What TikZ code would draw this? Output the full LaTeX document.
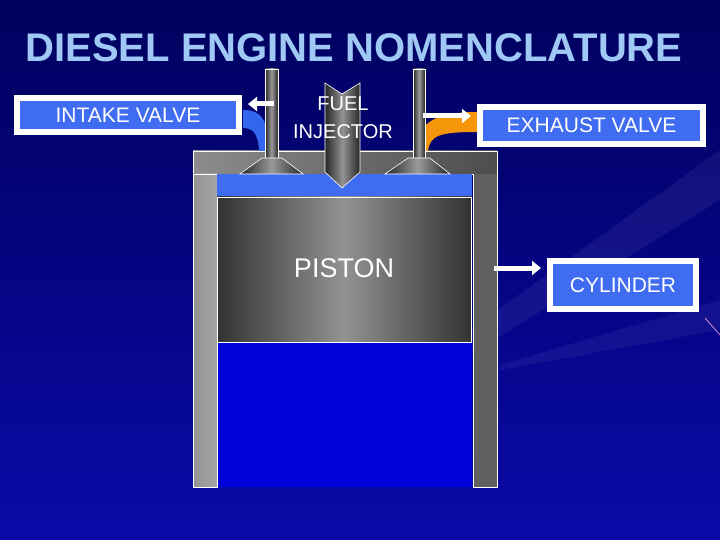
\documentclass[tikz,border=0pt]{standalone}
\usepackage{fontspec}
\setmainfont{Liberation Sans}
\usetikzlibrary{arrows.meta}
\definecolor{bgtop}{HTML}{00005E}
\definecolor{bgbot}{HTML}{0A0AA8}
\definecolor{lblue}{HTML}{3F6CF0}
\definecolor{ttl}{HTML}{9FC8F5}
\definecolor{port}{HTML}{3366EE}
\definecolor{orng}{HTML}{F5960A}
\tikzset{
 lbl/.style={draw=white,line width=6pt,fill=lblue,text=white,font=\fontsize{21}{22}\selectfont,inner sep=0pt,anchor=center},
 wht/.style={draw=white,line width=0.6pt},
 arr/.style={white,line width=5pt,-{Triangle[length=9pt,width=14pt]}},
}
\begin{document}
\begin{tikzpicture}[x=1pt,y=-1pt]
\useasboundingbox (0,0) rectangle (720,540);
\shade[top color=bgtop,bottom color=bgbot] (0,0) rectangle (720,540);
\fill[white,opacity=0.06] (720,150) -- (720,200) -- (470,355) -- (470,330) -- cycle;
\fill[white,opacity=0.05] (720,300) -- (720,330) -- (500,370) -- (500,365) -- cycle;
\draw[white!70!magenta,line width=0.6pt] (705,318) coordinate (d1) -- (720,335) coordinate (d2);
% title
\node[text=ttl,font=\bfseries\fontsize{40}{42}\selectfont] (title) at (354,48) {DIESEL ENGINE NOMENCLATURE};
% cylinder blue interior
\fill[blue!85!black] (217,174) rectangle (472,487);
% walls
\shade[wht,left color=gray!90,right color=gray!60!black] (193,151) rectangle (497,174);
\shade[wht,left color=gray!85,right color=gray!70] (193,174) rectangle (217,487);
\fill[gray!75!black] (473,174) rectangle (497,487);
\draw[white,line width=0.6pt] (473,174) -- (473,487) -- (497,487) -- (497,174) (217,174)--(217,487)--(193,487);
% blue band
\fill[lblue] (217,174) rectangle (472,197);
% piston
\shade[wht,left color=gray!40!black,right color=gray!40!black,middle color=gray!85] (217,197) rectangle (471,342);
\node[font=\fontsize{27}{28}\selectfont,text=white] (piston) at (344,268) {PISTON};
% ports
\fill[port] (243,110) .. controls (262,110) and (268,120) .. (269,151) -- (259,151) .. controls (258,132) and (252,128) .. (243,128) -- cycle;
\fill[orng] (478,112) -- (478,132) .. controls (440,132) and (430,135) .. (428,151) -- (416,151) .. controls (418,125) and (430,112) .. (478,112) -- cycle;
% valves
\shade[wht,left color=gray!30!black,right color=gray!30!black,middle color=gray!80] (265,69) rectangle (278,158);
\shade[wht,left color=gray!30!black,right color=gray!30!black,middle color=gray!80] (262,158) -- (282,158) -- (303,174) -- (240,174) -- cycle;
\shade[wht,left color=gray!30!black,right color=gray!30!black,middle color=gray!80] (413,69) rectangle (425,158);
\shade[wht,left color=gray!30!black,right color=gray!30!black,middle color=gray!80] (408,158) -- (430,158) -- (450,174) -- (385,174) -- cycle;
% injector
\shade[wht,left color=gray!30!black,right color=gray!30!black,middle color=gray!85] (325,83) -- (342,94) -- (360,83) -- (360,172) -- (342,188) -- (325,172) -- cycle;
\node[text=white,font=\fontsize{20}{28}\selectfont,align=center] (inj) at (343,118) {FUEL\\INJECTOR};
% labels
\node[lbl,minimum width=222pt,minimum height=34pt] (intake) at (128,115) {INTAKE VALVE};
\node[lbl,minimum width=223pt,minimum height=37pt] (exhaust) at (591.5,125.5) {EXHAUST VALVE};
\node[lbl,minimum width=146pt,minimum height=48pt] (cyl) at (623,285) {CYLINDER};
\coordinate (a1) at (274,104); \coordinate (b1) at (248,104);
\coordinate (a2) at (423,116); \coordinate (b2) at (471,116);
\coordinate (a3) at (494,268); \coordinate (b3) at (541,268);
\draw[arr] (a1) -- (b1);
\draw[arr] (a2) -- (b2);
\draw[arr] (a3) -- (b3);
\end{tikzpicture}
\end{document}
